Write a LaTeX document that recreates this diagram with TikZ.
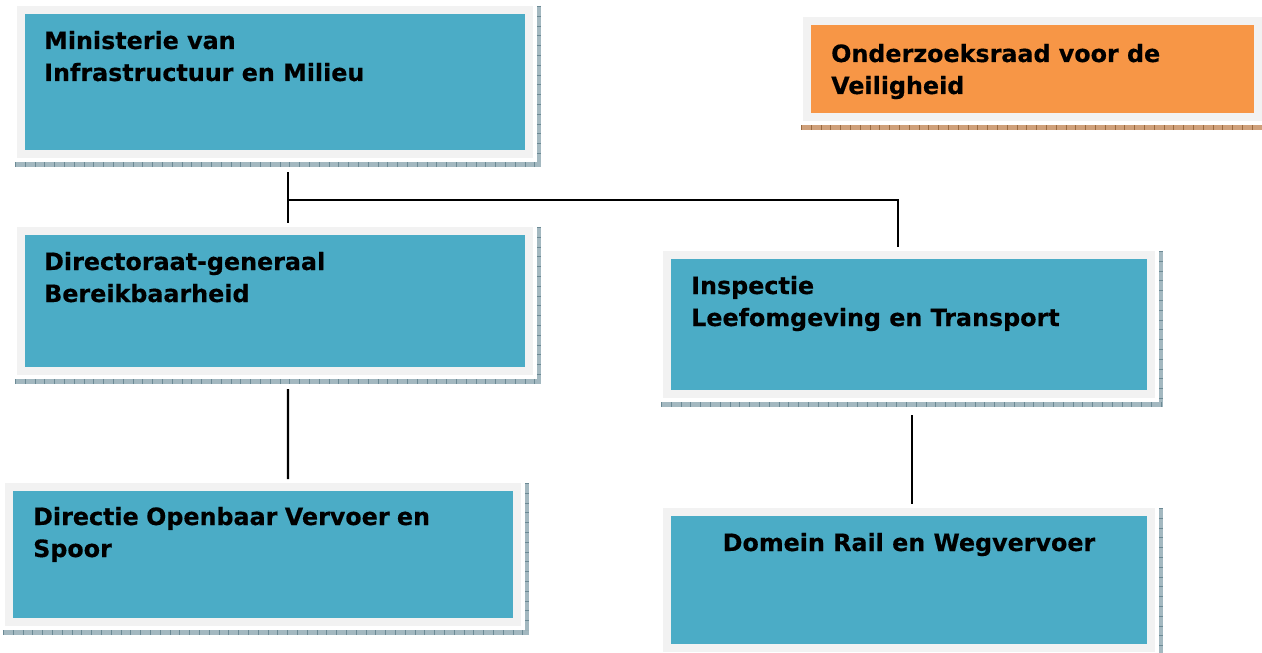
\documentclass[tikz,border=0pt]{standalone}
\usepackage{fontspec}
\setmainfont{DejaVu Sans}[BoldFeatures={FakeBold=0.4}]
\usetikzlibrary{calc}
\definecolor{teal5}{HTML}{4BACC6}
\definecolor{orng6}{HTML}{F79646}
\definecolor{framegray}{HTML}{F2F2F2}
\definecolor{shadeblue}{HTML}{A3B8C0}
\definecolor{shadetick}{HTML}{6C8A95}
\definecolor{shadebrown}{HTML}{CFA07A}
\definecolor{shadebrowntick}{HTML}{9A6A40}
\newcommand{\boxshadow}[3]{%
  \fill[#2] ($(#1.south west)+(-2,4)$) rectangle ($(#1.south east)+(8,9)$);
  \fill[#2] ($(#1.north east)+(4,0)$) rectangle ($(#1.south east)+(8,9)$);
  \draw[#3, line width=5bp, dash pattern=on 0.8bp off 9bp] ($(#1.south west)+(-2,6.5)$) -- ($(#1.south east)+(8,6.5)$);
  \draw[#3, line width=4bp, dash pattern=on 0.8bp off 9bp] ($(#1.north east)+(6,0)$) -- ($(#1.south east)+(6,4)$);
}
\begin{document}
\begin{tikzpicture}[x=1bp,y=-1bp,
  orgbox/.style={draw=framegray, line width=8bp, fill=teal5, inner sep=0pt},
  ovvbox/.style={draw=framegray, line width=8bp, fill=orng6, inner sep=0pt},
  lbl/.style={anchor=base west, inner sep=0pt, font=\bfseries\fontsize{23.8bp}{32bp}\selectfont},
  conn/.style={draw=black, line width=2.2bp}]
\useasboundingbox[fill=white] (0,0) rectangle (1262,653);
% boxes
\node[orgbox, minimum width=508bp, minimum height=144bp] (min) at (275,82) {};
\node[orgbox, minimum width=508bp, minimum height=140bp] (dg) at (275,301) {};
\node[orgbox, minimum width=508bp, minimum height=135bp] (dovs) at (263,554.5) {};
\node[orgbox, minimum width=484bp, minimum height=139bp] (ilt) at (909,324.5) {};
\node[orgbox, minimum width=484bp, minimum height=136bp] (drw) at (909,580) {};
\node[ovvbox, minimum width=451bp, minimum height=96bp] (ovv) at (1032.5,69) {};
% shadows
\boxshadow{min}{shadeblue}{shadetick}
\boxshadow{dg}{shadeblue}{shadetick}
\boxshadow{dovs}{shadeblue}{shadetick}
\boxshadow{ilt}{shadeblue}{shadetick}
\boxshadow{drw}{shadeblue}{shadetick}
\boxshadow{ovv}{shadebrown}{shadebrowntick}
% texts
\node[lbl] (minT) at (44,49) {\parbox[t]{14cm}{Ministerie van\\Infrastructuur en Milieu}};
\node[lbl] (dgT) at (44,270) {\parbox[t]{14cm}{Directoraat-generaal\\Bereikbaarheid}};
\node[lbl] (dovsT) at (33,525) {\parbox[t]{14cm}{Directie Openbaar Vervoer en\\Spoor}};
\node[lbl] (iltT) at (691,294) {\parbox[t]{14cm}{Inspectie\\Leefomgeving en Transport}};
\node[lbl, anchor=base] (drwT) at (909,551) {Domein Rail en Wegvervoer};
\node[lbl] (ovvT) at (831,62) {\parbox[t]{14cm}{Onderzoeksraad voor de\\Veiligheid}};
% connectors
\draw[conn] ([xshift=13bp,yshift=-14bp]min.south) -- ([xshift=13bp,yshift=4bp]dg.north);
\draw[conn] ([xshift=13bp,yshift=-42bp]min.south) -| ([xshift=-11bp,yshift=4bp]ilt.north);
\draw[conn] ([xshift=13bp,yshift=-14bp]dg.south) -- ([xshift=25bp,yshift=4bp]dovs.north);
\draw[conn] ([xshift=3bp,yshift=-17bp]ilt.south) -- ([xshift=3bp,yshift=4bp]drw.north);
\end{tikzpicture}
\end{document}
